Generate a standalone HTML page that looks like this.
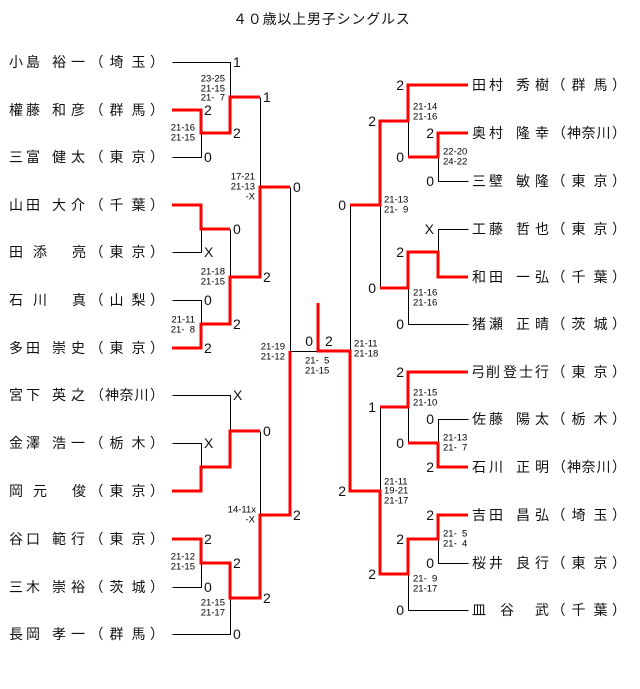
<!DOCTYPE html>
<html><head><meta charset="utf-8">
<style>
html,body{margin:0;padding:0;background:#fff;width:640px;height:689px;overflow:hidden}
svg{display:block}
.n{font-family:"Liberation Sans","Noto Sans CJK JP",sans-serif;font-size:14px;fill:#111}
.d{font-family:"Liberation Sans",sans-serif;font-size:14px;fill:#111}
.s{font-family:"Liberation Sans",sans-serif;font-size:9.5px;fill:#000}
</style></head><body>
<svg width="640" height="689" viewBox="0 0 640 689" xmlns="http://www.w3.org/2000/svg">
<text class="n" x="233" y="19" dominant-baseline="central" letter-spacing="0.8">４０歳以上男子シングルス</text>

<g stroke="#000" stroke-width="1" fill="none" transform="translate(0.5,0.5)">
<path d="M172 62H230V97 M172 157H201V133 M260 97V187 M172 252H201V229 M230 229V277 M172 300H201V324 M290 187V351H318 M172 395H230V431 M172 443H201V467 M260 431V515 M172 587H201V563 M172 634H230V598"/>
<path d="M468 181H438V157 M408 121V157 M350 205V351 M468 229H438V252 M380 205V288 M468 324H408V288 M380 407V491 M468 419H438V443 M408 407V443 M468 563H438V539 M468 610H408V574"/>
</g>

<g stroke="#ff0000" stroke-width="3" fill="none" stroke-linejoin="miter">
<polyline points="172,110 201,110 201,133 230,133 230,97 260,97"/>
<polyline points="172,205 201,205 201,229 230,229"/>
<polyline points="172,348 201,348 201,324 230,324 230,277 260,277 260,187 290,187"/>
<polyline points="172,491 201,491 201,467 230,467 230,431 260,431"/>
<polyline points="172,539 201,539 201,563 230,563 230,598 260,598 260,515 290,515 290,351"/>
<polyline points="468,85 408,85 408,121 380,121 380,205 350,205"/>
<polyline points="468,133 438,133 438,157 408,157"/>
<polyline points="468,277 438,277 438,252 408,252 408,288 380,288"/>
<polyline points="468,372 408,372 408,407 380,407"/>
<polyline points="468,467 438,467 438,443 408,443"/>
<polyline points="468,515 438,515 438,539 408,539 408,574 380,574 380,491 350,491 350,351 318,351 318,303"/>
</g>

<!-- Left names -->
<g class="n" dominant-baseline="central">
<text y="62"><tspan x="9">小</tspan><tspan x="26">島</tspan><tspan x="52">裕</tspan><tspan x="71">一</tspan><tspan x="89.5">（</tspan><tspan x="109.5">埼</tspan><tspan x="131.5">玉</tspan><tspan x="150">）</tspan></text>
<text y="110"><tspan x="9">權</tspan><tspan x="26">藤</tspan><tspan x="52">和</tspan><tspan x="71">彦</tspan><tspan x="89.5">（</tspan><tspan x="109.5">群</tspan><tspan x="131.5">馬</tspan><tspan x="150">）</tspan></text>
<text y="157"><tspan x="9">三</tspan><tspan x="26">富</tspan><tspan x="52">健</tspan><tspan x="71">太</tspan><tspan x="89.5">（</tspan><tspan x="109.5">東</tspan><tspan x="131.5">京</tspan><tspan x="150">）</tspan></text>
<text y="205"><tspan x="9">山</tspan><tspan x="26">田</tspan><tspan x="52">大</tspan><tspan x="71">介</tspan><tspan x="89.5">（</tspan><tspan x="109.5">千</tspan><tspan x="131.5">葉</tspan><tspan x="150">）</tspan></text>
<text y="252"><tspan x="9">田</tspan><tspan x="33">添</tspan><tspan x="72">亮</tspan><tspan x="89.5">（</tspan><tspan x="109.5">東</tspan><tspan x="131.5">京</tspan><tspan x="150">）</tspan></text>
<text y="300"><tspan x="9">石</tspan><tspan x="33">川</tspan><tspan x="72">真</tspan><tspan x="89.5">（</tspan><tspan x="109.5">山</tspan><tspan x="131.5">梨</tspan><tspan x="150">）</tspan></text>
<text y="348"><tspan x="9">多</tspan><tspan x="26">田</tspan><tspan x="52">崇</tspan><tspan x="71">史</tspan><tspan x="89.5">（</tspan><tspan x="109.5">東</tspan><tspan x="131.5">京</tspan><tspan x="150">）</tspan></text>
<text y="395"><tspan x="9">宮</tspan><tspan x="26">下</tspan><tspan x="52">英</tspan><tspan x="71">之</tspan><tspan x="90">（</tspan><tspan x="105">神</tspan><tspan x="119.5">奈</tspan><tspan x="134.5">川</tspan><tspan x="150">）</tspan></text>
<text y="443"><tspan x="9">金</tspan><tspan x="26">澤</tspan><tspan x="52">浩</tspan><tspan x="71">一</tspan><tspan x="89.5">（</tspan><tspan x="109.5">栃</tspan><tspan x="131.5">木</tspan><tspan x="150">）</tspan></text>
<text y="491"><tspan x="9">岡</tspan><tspan x="33">元</tspan><tspan x="72">俊</tspan><tspan x="89.5">（</tspan><tspan x="109.5">東</tspan><tspan x="131.5">京</tspan><tspan x="150">）</tspan></text>
<text y="539"><tspan x="9">谷</tspan><tspan x="26">口</tspan><tspan x="52">範</tspan><tspan x="71">行</tspan><tspan x="89.5">（</tspan><tspan x="109.5">東</tspan><tspan x="131.5">京</tspan><tspan x="150">）</tspan></text>
<text y="587"><tspan x="9">三</tspan><tspan x="26">木</tspan><tspan x="52">崇</tspan><tspan x="71">裕</tspan><tspan x="89.5">（</tspan><tspan x="109.5">茨</tspan><tspan x="131.5">城</tspan><tspan x="150">）</tspan></text>
<text y="634"><tspan x="9">長</tspan><tspan x="26">岡</tspan><tspan x="52">孝</tspan><tspan x="71">一</tspan><tspan x="89.5">（</tspan><tspan x="109.5">群</tspan><tspan x="131.5">馬</tspan><tspan x="150">）</tspan></text>
</g>

<!-- Right names -->
<g class="n" dominant-baseline="central">
<text y="85"><tspan x="472">田</tspan><tspan x="489">村</tspan><tspan x="516">秀</tspan><tspan x="535">樹</tspan><tspan x="551.5">（</tspan><tspan x="571.5">群</tspan><tspan x="593.5">馬</tspan><tspan x="612">）</tspan></text>
<text y="133"><tspan x="472">奥</tspan><tspan x="489">村</tspan><tspan x="516">隆</tspan><tspan x="535">幸</tspan><tspan x="552">（</tspan><tspan x="567">神</tspan><tspan x="581.5">奈</tspan><tspan x="596.5">川</tspan><tspan x="612">）</tspan></text>
<text y="181"><tspan x="472">三</tspan><tspan x="489">壁</tspan><tspan x="516">敏</tspan><tspan x="535">隆</tspan><tspan x="551.5">（</tspan><tspan x="571.5">東</tspan><tspan x="593.5">京</tspan><tspan x="612">）</tspan></text>
<text y="229"><tspan x="472">工</tspan><tspan x="489">藤</tspan><tspan x="516">哲</tspan><tspan x="535">也</tspan><tspan x="551.5">（</tspan><tspan x="571.5">東</tspan><tspan x="593.5">京</tspan><tspan x="612">）</tspan></text>
<text y="277"><tspan x="472">和</tspan><tspan x="489">田</tspan><tspan x="516">一</tspan><tspan x="535">弘</tspan><tspan x="551.5">（</tspan><tspan x="571.5">千</tspan><tspan x="593.5">葉</tspan><tspan x="612">）</tspan></text>
<text y="324"><tspan x="472">猪</tspan><tspan x="489">瀬</tspan><tspan x="516">正</tspan><tspan x="535">晴</tspan><tspan x="551.5">（</tspan><tspan x="571.5">茨</tspan><tspan x="593.5">城</tspan><tspan x="612">）</tspan></text>
<text y="372"><tspan x="471">弓</tspan><tspan x="486">削</tspan><tspan x="503">登</tspan><tspan x="519">士</tspan><tspan x="535">行</tspan><tspan x="551.5">（</tspan><tspan x="571.5">東</tspan><tspan x="593.5">京</tspan><tspan x="612">）</tspan></text>
<text y="419"><tspan x="472">佐</tspan><tspan x="489">藤</tspan><tspan x="516">陽</tspan><tspan x="535">太</tspan><tspan x="551.5">（</tspan><tspan x="571.5">栃</tspan><tspan x="593.5">木</tspan><tspan x="612">）</tspan></text>
<text y="467"><tspan x="472">石</tspan><tspan x="489">川</tspan><tspan x="516">正</tspan><tspan x="535">明</tspan><tspan x="552">（</tspan><tspan x="567">神</tspan><tspan x="581.5">奈</tspan><tspan x="596.5">川</tspan><tspan x="612">）</tspan></text>
<text y="515"><tspan x="472">吉</tspan><tspan x="489">田</tspan><tspan x="516">昌</tspan><tspan x="535">弘</tspan><tspan x="551.5">（</tspan><tspan x="571.5">埼</tspan><tspan x="593.5">玉</tspan><tspan x="612">）</tspan></text>
<text y="563"><tspan x="472">桜</tspan><tspan x="489">井</tspan><tspan x="516">良</tspan><tspan x="535">行</tspan><tspan x="551.5">（</tspan><tspan x="571.5">東</tspan><tspan x="593.5">京</tspan><tspan x="612">）</tspan></text>
<text y="610"><tspan x="472">皿</tspan><tspan x="500">谷</tspan><tspan x="535">武</tspan><tspan x="551.5">（</tspan><tspan x="571.5">千</tspan><tspan x="593.5">葉</tspan><tspan x="612">）</tspan></text>
</g>

<!-- Left digit labels -->
<g class="d" dominant-baseline="central">
<text x="233" y="62">1</text>
<text x="204" y="110">2</text>
<text x="233" y="133">2</text>
<text x="204" y="157">0</text>
<text x="263" y="97">1</text>
<text x="293" y="187">0</text>
<text x="233" y="229">0</text>
<text x="204" y="252">X</text>
<text x="263" y="277">2</text>
<text x="204" y="300">0</text>
<text x="233" y="324">2</text>
<text x="204" y="348">2</text>
<text x="233" y="395">X</text>
<text x="263" y="431">0</text>
<text x="204" y="443">X</text>
<text x="293" y="515">2</text>
<text x="204" y="539">2</text>
<text x="233" y="563">2</text>
<text x="263" y="598">2</text>
<text x="204" y="587">0</text>
<text x="233" y="634">0</text>
<text x="313" y="341" text-anchor="end">0</text>
<text x="325" y="341">2</text>
</g>

<!-- Right digit labels -->
<g class="d" dominant-baseline="central" text-anchor="end">
<text x="404" y="85">2</text>
<text x="376" y="121">2</text>
<text x="434" y="133">2</text>
<text x="404" y="157">0</text>
<text x="434" y="181">0</text>
<text x="346" y="205">0</text>
<text x="434" y="229">X</text>
<text x="404" y="252">2</text>
<text x="376" y="288">0</text>
<text x="404" y="324">0</text>
<text x="404" y="372">2</text>
<text x="376" y="407">1</text>
<text x="434" y="419">0</text>
<text x="404" y="443">0</text>
<text x="434" y="467">2</text>
<text x="346" y="491">2</text>
<text x="434" y="515">2</text>
<text x="404" y="539">2</text>
<text x="434" y="563">0</text>
<text x="376" y="574">2</text>
<text x="404" y="610">0</text>
</g>

<!-- Left small scores (right-aligned) -->
<g class="s" dominant-baseline="central" text-anchor="end">
<text x="195" y="128">21-16</text><text x="195" y="138">21-15</text>
<text x="195" y="320">21-11</text><text x="195" y="330">21-&#160;&#160;8</text>
<text x="195" y="557">21-12</text><text x="195" y="567">21-15</text>
<text x="225" y="79">23-25</text><text x="225" y="89">21-15</text><text x="225" y="98">21-&#160;&#160;7</text>
<text x="225" y="272">21-18</text><text x="225" y="282">21-15</text>
<text x="225" y="603">21-15</text><text x="225" y="613">21-17</text>
<text x="255" y="177">17-21</text><text x="255" y="187">21-13</text><text x="255" y="197">-X</text>
<text x="256" y="510">14-11x</text><text x="255" y="520">-X</text>
<text x="285" y="347">21-19</text><text x="285" y="357">21-12</text>
</g>

<!-- Right & final small scores (left-aligned) -->
<g class="s" dominant-baseline="central">
<text x="305" y="361">21-&#160;&#160;5</text><text x="305" y="371">21-15</text>
<text x="443" y="152">22-20</text><text x="443" y="162">24-22</text>
<text x="443" y="438">21-13</text><text x="443" y="448">21-&#160;&#160;7</text>
<text x="443" y="534">21-&#160;&#160;5</text><text x="443" y="544">21-&#160;&#160;4</text>
<text x="413" y="107">21-14</text><text x="413" y="117">21-16</text>
<text x="413" y="293">21-16</text><text x="413" y="303">21-16</text>
<text x="413" y="393">21-15</text><text x="413" y="403">21-10</text>
<text x="413" y="579">21-&#160;&#160;9</text><text x="413" y="589">21-17</text>
<text x="384" y="200">21-13</text><text x="384" y="210">21-&#160;&#160;9</text>
<text x="384" y="482">21-11</text><text x="384" y="491">19-21</text><text x="384" y="501">21-17</text>
<text x="354" y="344">21-11</text><text x="354" y="354">21-18</text>
</g>
</svg>
</body></html>
